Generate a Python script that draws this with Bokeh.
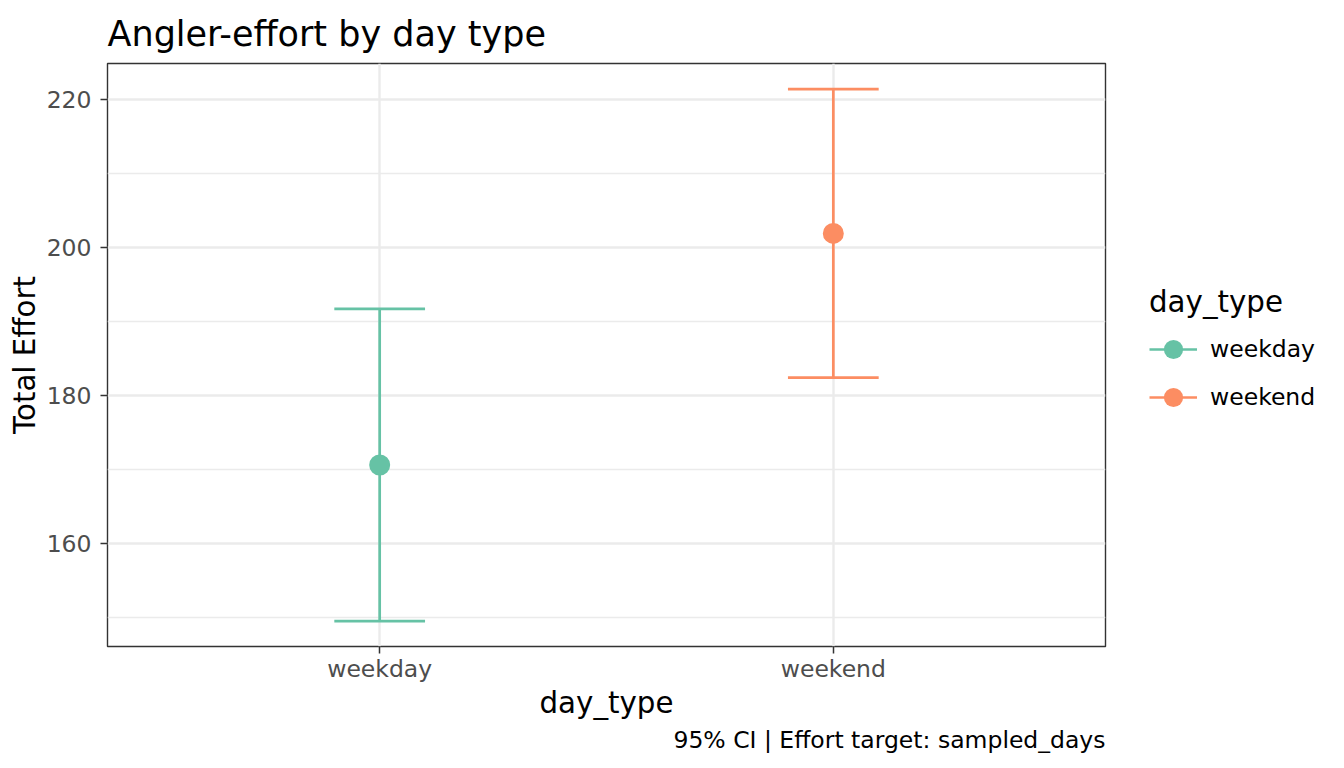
from bokeh.plotting import figure
from bokeh.models import (ColumnDataSource, Range1d, FactorRange, FixedTicker, Legend,
                          LegendItem, Title)
from bokeh.transform import dodge
from bokeh.embed import file_html
from bokeh.resources import INLINE

# ---- data ----
day_types = ["weekday", "weekend"]
estimate = [170.6, 201.9]
ci_lower = [149.5, 182.4]
ci_upper = [191.7, 221.4]
colors = ["#66C2A5", "#FC8D62"]
y_ticks = [160, 180, 200, 220]
y_minor = [150, 170, 190, 210]

FONT = "DejaVu Sans"

p = figure(frame_width=998, frame_height=583,
           x_range=FactorRange(*day_types, range_padding=0.1),
           y_range=Range1d(146.08, 224.86),
           output_backend="svg", toolbar_location=None,
           min_border_left=107, min_border_right=239,
           min_border_top=63, min_border_bottom=122)

p.background_fill_color = "white"
p.border_fill_color = "white"
p.outline_line_color = "#333333"
p.outline_line_width = 1.4

# title
p.title.text = "Angler-effort by day type"
p.title.text_font = FONT
p.title.text_font_size = "35px"
p.title.text_font_style = "normal"
p.title.text_color = "black"
p.title.align = "left"
p.title.standoff = 20

# grids
p.xgrid.grid_line_color = "#EBEBEB"
p.xgrid.grid_line_width = 2.4
p.ygrid.ticker = FixedTicker(ticks=y_ticks, minor_ticks=y_minor)
p.ygrid.grid_line_color = "#EBEBEB"
p.ygrid.grid_line_width = 2.4
p.ygrid.minor_grid_line_color = "#EBEBEB"
p.ygrid.minor_grid_line_width = 1.3

# axes
p.yaxis.ticker = FixedTicker(ticks=y_ticks, minor_ticks=[])
for ax in (p.xaxis[0], p.yaxis[0]):
    ax.axis_line_color = None
    ax.major_tick_line_color = "#333333"
    ax.major_tick_line_width = 1.5
    ax.major_tick_out = 7
    ax.major_tick_in = 0
    ax.minor_tick_line_color = None
    ax.major_label_text_font = FONT
    ax.major_label_text_font_size = "23.5px"
    ax.major_label_text_color = "#4D4D4D"
    ax.axis_label_text_font = FONT
    ax.axis_label_text_font_size = "29.3px"
    ax.axis_label_text_font_style = "normal"
    ax.axis_label_text_color = "black"
p.xaxis.axis_label = "day_type"
p.yaxis.axis_label = "Total Effort"
p.xaxis.major_label_standoff = 1
p.xaxis.axis_label_standoff = 0
p.yaxis.major_label_standoff = 9
p.yaxis.axis_label_standoff = 2

# caption
cap = Title(text="95% CI | Effort target: sampled_days", align="right",
            text_font=FONT, text_font_size="23.5px", text_font_style="normal",
            text_color="black", standoff=2)
p.add_layout(cap, "below")

items = []
for i, d in enumerate(day_types):
    src = ColumnDataSource(dict(day_type=[d], est=[estimate[i]],
                                lo=[ci_lower[i]], hi=[ci_upper[i]]))
    vline = p.segment(x0="day_type", x1="day_type", y0="lo", y1="hi", source=src,
                      line_color=colors[i], line_width=2.7)
    p.segment(x0=dodge("day_type", -0.1, range=p.x_range),
              x1=dodge("day_type", 0.1, range=p.x_range),
              y0="lo", y1="lo", source=src, line_color=colors[i], line_width=2.7)
    p.segment(x0=dodge("day_type", -0.1, range=p.x_range),
              x1=dodge("day_type", 0.1, range=p.x_range),
              y0="hi", y1="hi", source=src, line_color=colors[i], line_width=2.7)
    pt = p.scatter(x="day_type", y="est", source=src, size=21, marker="circle",
                   fill_color=colors[i], line_color=colors[i], line_width=0)
    items.append(LegendItem(label=d, renderers=[vline, pt]))

legend = Legend(items=items, title="day_type", location=(44, 225),
                margin=0, padding=0, spacing=-5,
                glyph_width=48, glyph_height=48, label_height=48, label_standoff=13,
                label_text_font=FONT, label_text_font_size="23.5px",
                label_text_color="black",
                title_text_font=FONT, title_text_font_size="29.3px",
                title_text_font_style="normal", title_text_color="black",
                title_standoff=6,
                background_fill_alpha=0, border_line_color=None)
p.add_layout(legend, "right")

open("out.html", "w").write(file_html(p, INLINE))
